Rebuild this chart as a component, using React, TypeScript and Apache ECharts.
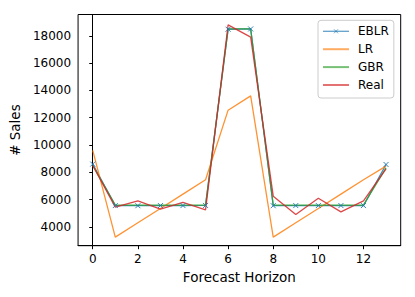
import React, { useEffect, useRef } from "react";
import * as echarts from "echarts";

const horizon = [0, 1, 2, 3, 4, 5, 6, 7, 8, 9, 10, 11, 12, 13];
const eblr = [8600, 5560, 5550, 5560, 5560, 5570, 18480, 18500, 5550, 5560, 5560, 5560, 5560, 8570];
const lr = [9600, 3250, 4300, 5350, 6400, 7450, 12550, 13600, 3250, 4300, 5350, 6400, 7450, 8450];
const gbr = [8500, 5590, 5600, 5590, 5600, 5600, 18500, 18500, 5600, 5600, 5590, 5600, 5600, 8320];
const real = [8500, 5450, 5900, 5300, 5800, 5250, 18800, 17900, 6250, 4900, 6100, 5100, 5900, 8250];
const xTicks = [0, 2, 4, 6, 8, 10, 12];
const yTicks = [4000, 6000, 8000, 10000, 12000, 14000, 16000, 18000];
const seriesNames = ["EBLR", "LR", "GBR", "Real"];

const FONT = "DejaVu Sans";
const BLUE = "#1f77b4";

export default function App() {
  const ref = useRef<HTMLDivElement>(null);
  useEffect(() => {
    if (!ref.current) return;
    const chart = echarts.init(ref.current, undefined, { renderer: "svg" });
    const mk = (name: string, vals: number[], color: string, marker: boolean) => ({
      name,
      type: "line",
      data: horizon.map((x, i) => [x, vals[i]]),
      symbol: marker ? "path://M0,0L10,10M10,0L0,10" : "none",
      showSymbol: marker,
      symbolSize: 5,
      lineStyle: { color, width: 1.3, opacity: 0.85 },
      itemStyle: { color, borderColor: color, borderWidth: 1, opacity: 0.9 },
      emphasis: { disabled: true },
    });
    chart.setOption({
      animation: false,
      textStyle: { fontFamily: FONT },
      grid: {
        left: 76,
        top: 14.5,
        right: 14.3,
        bottom: 51.3,
        show: true,
        borderColor: "#000",
        borderWidth: 1,
        backgroundColor: "#fff",
      },
      legend: {
        orient: "vertical",
        left: 318,
        top: 20.3,
        padding: [4, 5, 6, 4],
        itemWidth: 26,
        itemHeight: 5,
        itemGap: 3.9,
        borderColor: "#ccc",
        borderWidth: 1,
        borderRadius: 3,
        backgroundColor: "rgba(255,255,255,0.8)",
        lineStyle: { opacity: 0.65 },
        textStyle: { fontFamily: FONT, fontSize: 12, color: "#000", padding: [0, 0, 0, 4], lineHeight: 14 },
        data: seriesNames.map((n, i) =>
          i === 0
            ? {
                name: n,
                lineStyle: { color: BLUE, opacity: 0.7, width: 1.3 },
                itemStyle: { color: BLUE, borderColor: BLUE, opacity: 0.8, borderWidth: 0.8 },
              }
            : { name: n, itemStyle: { opacity: 0 } }
        ),
      },
      xAxis: {
        type: "value",
        min: -0.65,
        max: 13.65,
        name: "Forecast Horizon",
        nameLocation: "middle",
        nameGap: 24,
        nameTextStyle: { fontFamily: FONT, fontSize: 13.5, color: "#000" },
        axisLine: { show: true, lineStyle: { color: "#000", width: 1 } },
        axisTick: { show: true, length: 3.5, lineStyle: { color: "#000" }, customValues: xTicks },
        axisLabel: { fontFamily: FONT, fontSize: 12, color: "#000", margin: 7.5, customValues: xTicks, formatter: (v: number) => String(v) },
        splitLine: { show: false },
      },
      yAxis: {
        type: "value",
        min: 2620,
        max: 19560,
        name: "# Sales",
        nameLocation: "middle",
        nameGap: 48,
        nameTextStyle: { fontFamily: FONT, fontSize: 13.5, color: "#000" },
        axisLine: { show: true, lineStyle: { color: "#000", width: 1 } },
        axisTick: { show: true, length: 3.5, lineStyle: { color: "#000" }, customValues: yTicks },
        axisLabel: { fontFamily: FONT, fontSize: 12, color: "#000", margin: 7, customValues: yTicks, formatter: (v: number) => String(v) },
        splitLine: { show: false },
      },
      series: [
        mk("EBLR", eblr, BLUE, true),
        mk("LR", lr, "#ff7f0e", false),
        mk("GBR", gbr, "#2ca02c", false),
        mk("Real", real, "#d62728", false),
      ],
    });
    return () => chart.dispose();
  }, []);
  return (
    <div
      ref={ref}
      style={{ width: 415, height: 297, position: "absolute", left: 0, top: 0 }}
    />
  );
}
